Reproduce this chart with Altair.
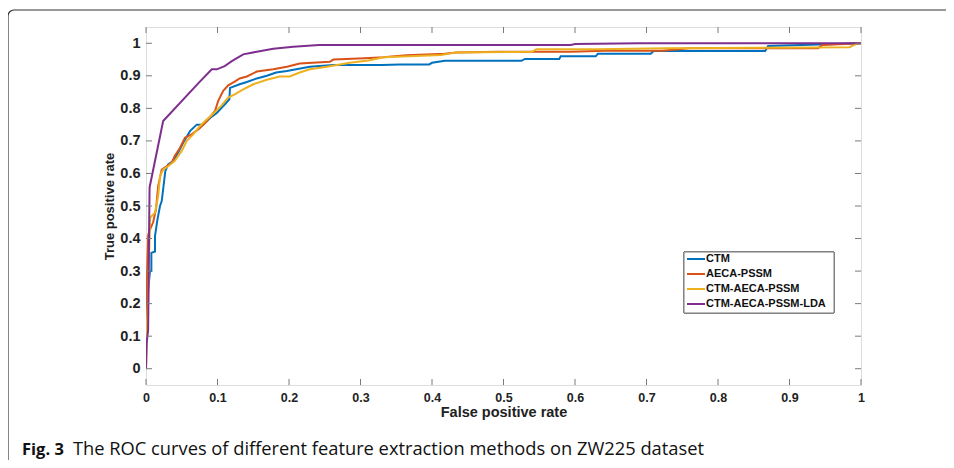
import altair as alt
import pandas as pd

series_names = ["CTM", "AECA-PSSM", "CTM-AECA-PSSM", "CTM-AECA-PSSM-LDA"]
series_colors = ["#0072BD", "#D95319", "#EDB120", "#7E2F8E"]

ctm_fpr = [0, 0, 0.003, 0.0056, 0.0075, 0.0075, 0.0126, 0.0126, 0.016, 0.0196, 0.022, 0.027,
           0.031, 0.038, 0.045, 0.052, 0.0615, 0.071, 0.08, 0.09, 0.099, 0.11, 0.1166, 0.1175,
           0.131, 0.141, 0.155, 0.169, 0.182, 0.197, 0.229, 0.262, 0.33, 0.355, 0.396, 0.40,
           0.418, 0.525, 0.53, 0.578, 0.58, 0.629, 0.632, 0.706, 0.71, 0.866, 0.87, 1.0]
ctm_tpr = [0, 0.1, 0.243, 0.30, 0.30, 0.356, 0.36, 0.408, 0.458, 0.50, 0.515, 0.607,
           0.628, 0.638, 0.664, 0.694, 0.73, 0.75, 0.75, 0.771, 0.786, 0.812, 0.828, 0.863,
           0.874, 0.881, 0.892, 0.90, 0.91, 0.915, 0.928, 0.933, 0.933, 0.935, 0.935, 0.94,
           0.946, 0.946, 0.952, 0.952, 0.96, 0.96, 0.968, 0.968, 0.976, 0.976, 0.992, 1.0]

aeca_fpr = [0, 0.001, 0.003, 0.0047, 0.01, 0.014, 0.017, 0.022, 0.029, 0.036, 0.04, 0.0476,
            0.0545, 0.064, 0.0755, 0.085, 0.0965, 0.101, 0.108, 0.115, 0.124, 0.131, 0.141,
            0.155, 0.178, 0.197, 0.215, 0.257, 0.262, 0.306, 0.332, 0.364, 0.418, 0.434,
            0.493, 0.594, 0.642, 0.722, 0.76, 0.94, 0.946, 1.0]
aeca_tpr = [0, 0.25, 0.41, 0.423, 0.45, 0.49, 0.561, 0.612, 0.622, 0.633, 0.653, 0.679,
            0.71, 0.72, 0.74, 0.761, 0.792, 0.823, 0.854, 0.871, 0.882, 0.892, 0.898,
            0.913, 0.92, 0.928, 0.938, 0.943, 0.95, 0.954, 0.957, 0.963, 0.968, 0.972,
            0.974, 0.974, 0.977, 0.977, 0.985, 0.985, 0.995, 1.0]

ctm_aeca_fpr = [0, 0.001, 0.003, 0.004, 0.0056, 0.0126, 0.017, 0.0196, 0.024, 0.031, 0.04,
                0.05, 0.057, 0.066, 0.0755, 0.085, 0.0965, 0.106, 0.115, 0.124, 0.136, 0.15,
                0.169, 0.187, 0.201, 0.215, 0.229, 0.253, 0.285, 0.311, 0.332, 0.413, 0.434,
                0.54, 0.546, 0.631, 0.727, 0.984, 0.995, 1.0]
ctm_aeca_tpr = [0, 0.13, 0.21, 0.31, 0.464, 0.479, 0.53, 0.592, 0.612, 0.622, 0.638,
                0.669, 0.70, 0.72, 0.746, 0.766, 0.789, 0.81, 0.833, 0.843, 0.858, 0.874,
                0.888, 0.898, 0.898, 0.91, 0.92, 0.928, 0.94, 0.947, 0.957, 0.964, 0.972,
                0.974, 0.982, 0.982, 0.985, 0.988, 1.0, 1.0]

lda_fpr = [0, 0.001, 0.003, 0.004, 0.005, 0.024, 0.074, 0.092, 0.099, 0.11, 0.12, 0.136,
           0.155, 0.178, 0.206, 0.242, 0.594, 0.6, 0.69, 1.0]
lda_tpr = [0, 0.08, 0.12, 0.35, 0.557, 0.761, 0.879, 0.92, 0.92, 0.93, 0.945, 0.966,
           0.974, 0.983, 0.989, 0.995, 0.995, 0.998, 1.0, 1.0]

tick_values = [0, 0.1, 0.2, 0.3, 0.4, 0.5, 0.6, 0.7, 0.8, 0.9, 1]
x_title = "False  positive  rate"
y_title = "True  positive  rate"
caption_bold = "Fig. 3"
caption_text = "The ROC curves of different feature extraction methods on ZW225 dataset"

# ---- build tables ----
rows = []
for name, xs, ys in zip(series_names,
                        [ctm_fpr, aeca_fpr, ctm_aeca_fpr, lda_fpr],
                        [ctm_tpr, aeca_tpr, ctm_aeca_tpr, lda_tpr]):
    for i, (a, b) in enumerate(zip(xs, ys)):
        rows.append({"series": name, "fpr": a, "tpr": b, "idx": i})
df = pd.DataFrame(rows)
ticks_df = pd.DataFrame({"t": tick_values})
legend_df = pd.DataFrame({"series": series_names, "i": list(range(len(series_names)))})

W, H = 715, 358
FRAME = "#7a7a7a"
AXFONT = "Liberation Sans"

xscale = alt.Scale(domain=[0, 1], nice=False, zero=False)
yscale = alt.Scale(domain=[-0.05, 1.05], nice=False, zero=False)
cscale = alt.Scale(domain=series_names, range=series_colors)

x_axis = alt.Axis(values=tick_values, format="~g", title=x_title, domain=False,
                  ticks=False, grid=False, labelFlush=False, labelOverlap=False,
                  labelFont=AXFONT, labelFontWeight="bold", labelFontSize=12.5,
                  labelColor="#222", labelPadding=6,
                  titleFont=AXFONT, titleFontWeight="bold", titleFontSize=14.5,
                  titleColor="#222", titlePadding=2)
y_axis = alt.Axis(values=tick_values, format="~g", title=y_title, domain=False,
                  ticks=False, grid=False, labelFlush=False, labelOverlap=False,
                  labelFont=AXFONT, labelFontWeight="bold", labelFontSize=14.5,
                  labelColor="#222", labelPadding=6,
                  titleFont=AXFONT, titleFontWeight="bold", titleFontSize=13,
                  titleColor="#222", titlePadding=3)

lines = alt.Chart(df).mark_line(strokeWidth=2, clip=True).encode(
    x=alt.X("fpr:Q", scale=xscale, axis=x_axis),
    y=alt.Y("tpr:Q", scale=yscale, axis=y_axis),
    color=alt.Color("series:N", scale=cscale, legend=None),
    order="idx:Q",
)

tb = alt.Chart(ticks_df)
tick_bottom = tb.mark_rule(color=FRAME).encode(
    x=alt.X("t:Q", scale=xscale, axis=x_axis), y=alt.value(H), y2=alt.value(H - 6))
tick_top = tb.mark_rule(color=FRAME).encode(
    x=alt.X("t:Q", scale=xscale, axis=x_axis), y=alt.value(0), y2=alt.value(6))
tick_left = tb.mark_rule(color=FRAME).encode(
    y=alt.Y("t:Q", scale=yscale, axis=y_axis), x=alt.value(0), x2=alt.value(6))
tick_right = tb.mark_rule(color=FRAME).encode(
    y=alt.Y("t:Q", scale=yscale, axis=y_axis), x=alt.value(W), x2=alt.value(W - 6))

# legend (drawn as marks)
lg = alt.Chart(legend_df).transform_calculate(ly="232 + 15 * datum.i")
legend_box = alt.Chart(legend_df).mark_rect(fill="white", stroke=FRAME, strokeWidth=1).encode(
    x=alt.value(538), x2=alt.value(688), y=alt.value(225), y2=alt.value(286))
legend_lines = lg.mark_rule(strokeWidth=2).encode(
    x=alt.value(541), x2=alt.value(559), y=alt.Y("ly:Q", scale=None),
    color=alt.Color("series:N", scale=cscale, legend=None))
legend_text = lg.mark_text(align="left", baseline="middle", font=AXFONT, fontWeight="bold",
                           fontSize=11, color="#111").encode(
    x=alt.value(560), y=alt.Y("ly:Q", scale=None), text="series:N")

# outer figure frame and caption
outer = alt.Chart(legend_df.head(1)).mark_rect(fill=None, stroke="#333", strokeWidth=1.2,
                                               cornerRadius=6, clip=False).encode(
    x=alt.value(-138), x2=alt.value(820), y=alt.value(-17), y2=alt.value(520))
cap_df = pd.DataFrame({"b": [caption_bold], "t": [caption_text]})
cap_bold = alt.Chart(cap_df).mark_text(align="left", baseline="alphabetic", font="Open Sans",
                                       fontWeight="bold", fontSize=16.5, color="#111").encode(
    x=alt.value(-124), y=alt.value(428), text="b:N")
cap_main = alt.Chart(cap_df).mark_text(align="left", baseline="alphabetic", font="Open Sans",
                                       fontSize=18.3, color="#111").encode(
    x=alt.value(-73), y=alt.value(428), text="t:N")

chart = alt.layer(
    outer, lines, tick_bottom, tick_top, tick_left, tick_right,
    legend_box, legend_lines, legend_text, cap_bold, cap_main
).properties(
    width=W, height=H,
    autosize=alt.AutoSizeParams(type="none"),
    padding={"left": 138, "top": 19, "right": 85, "bottom": 75},
).configure_view(stroke=FRAME, strokeWidth=1).configure(background="white")

chart.save("out.html", embed_options={"renderer": "svg", "actions": False})
